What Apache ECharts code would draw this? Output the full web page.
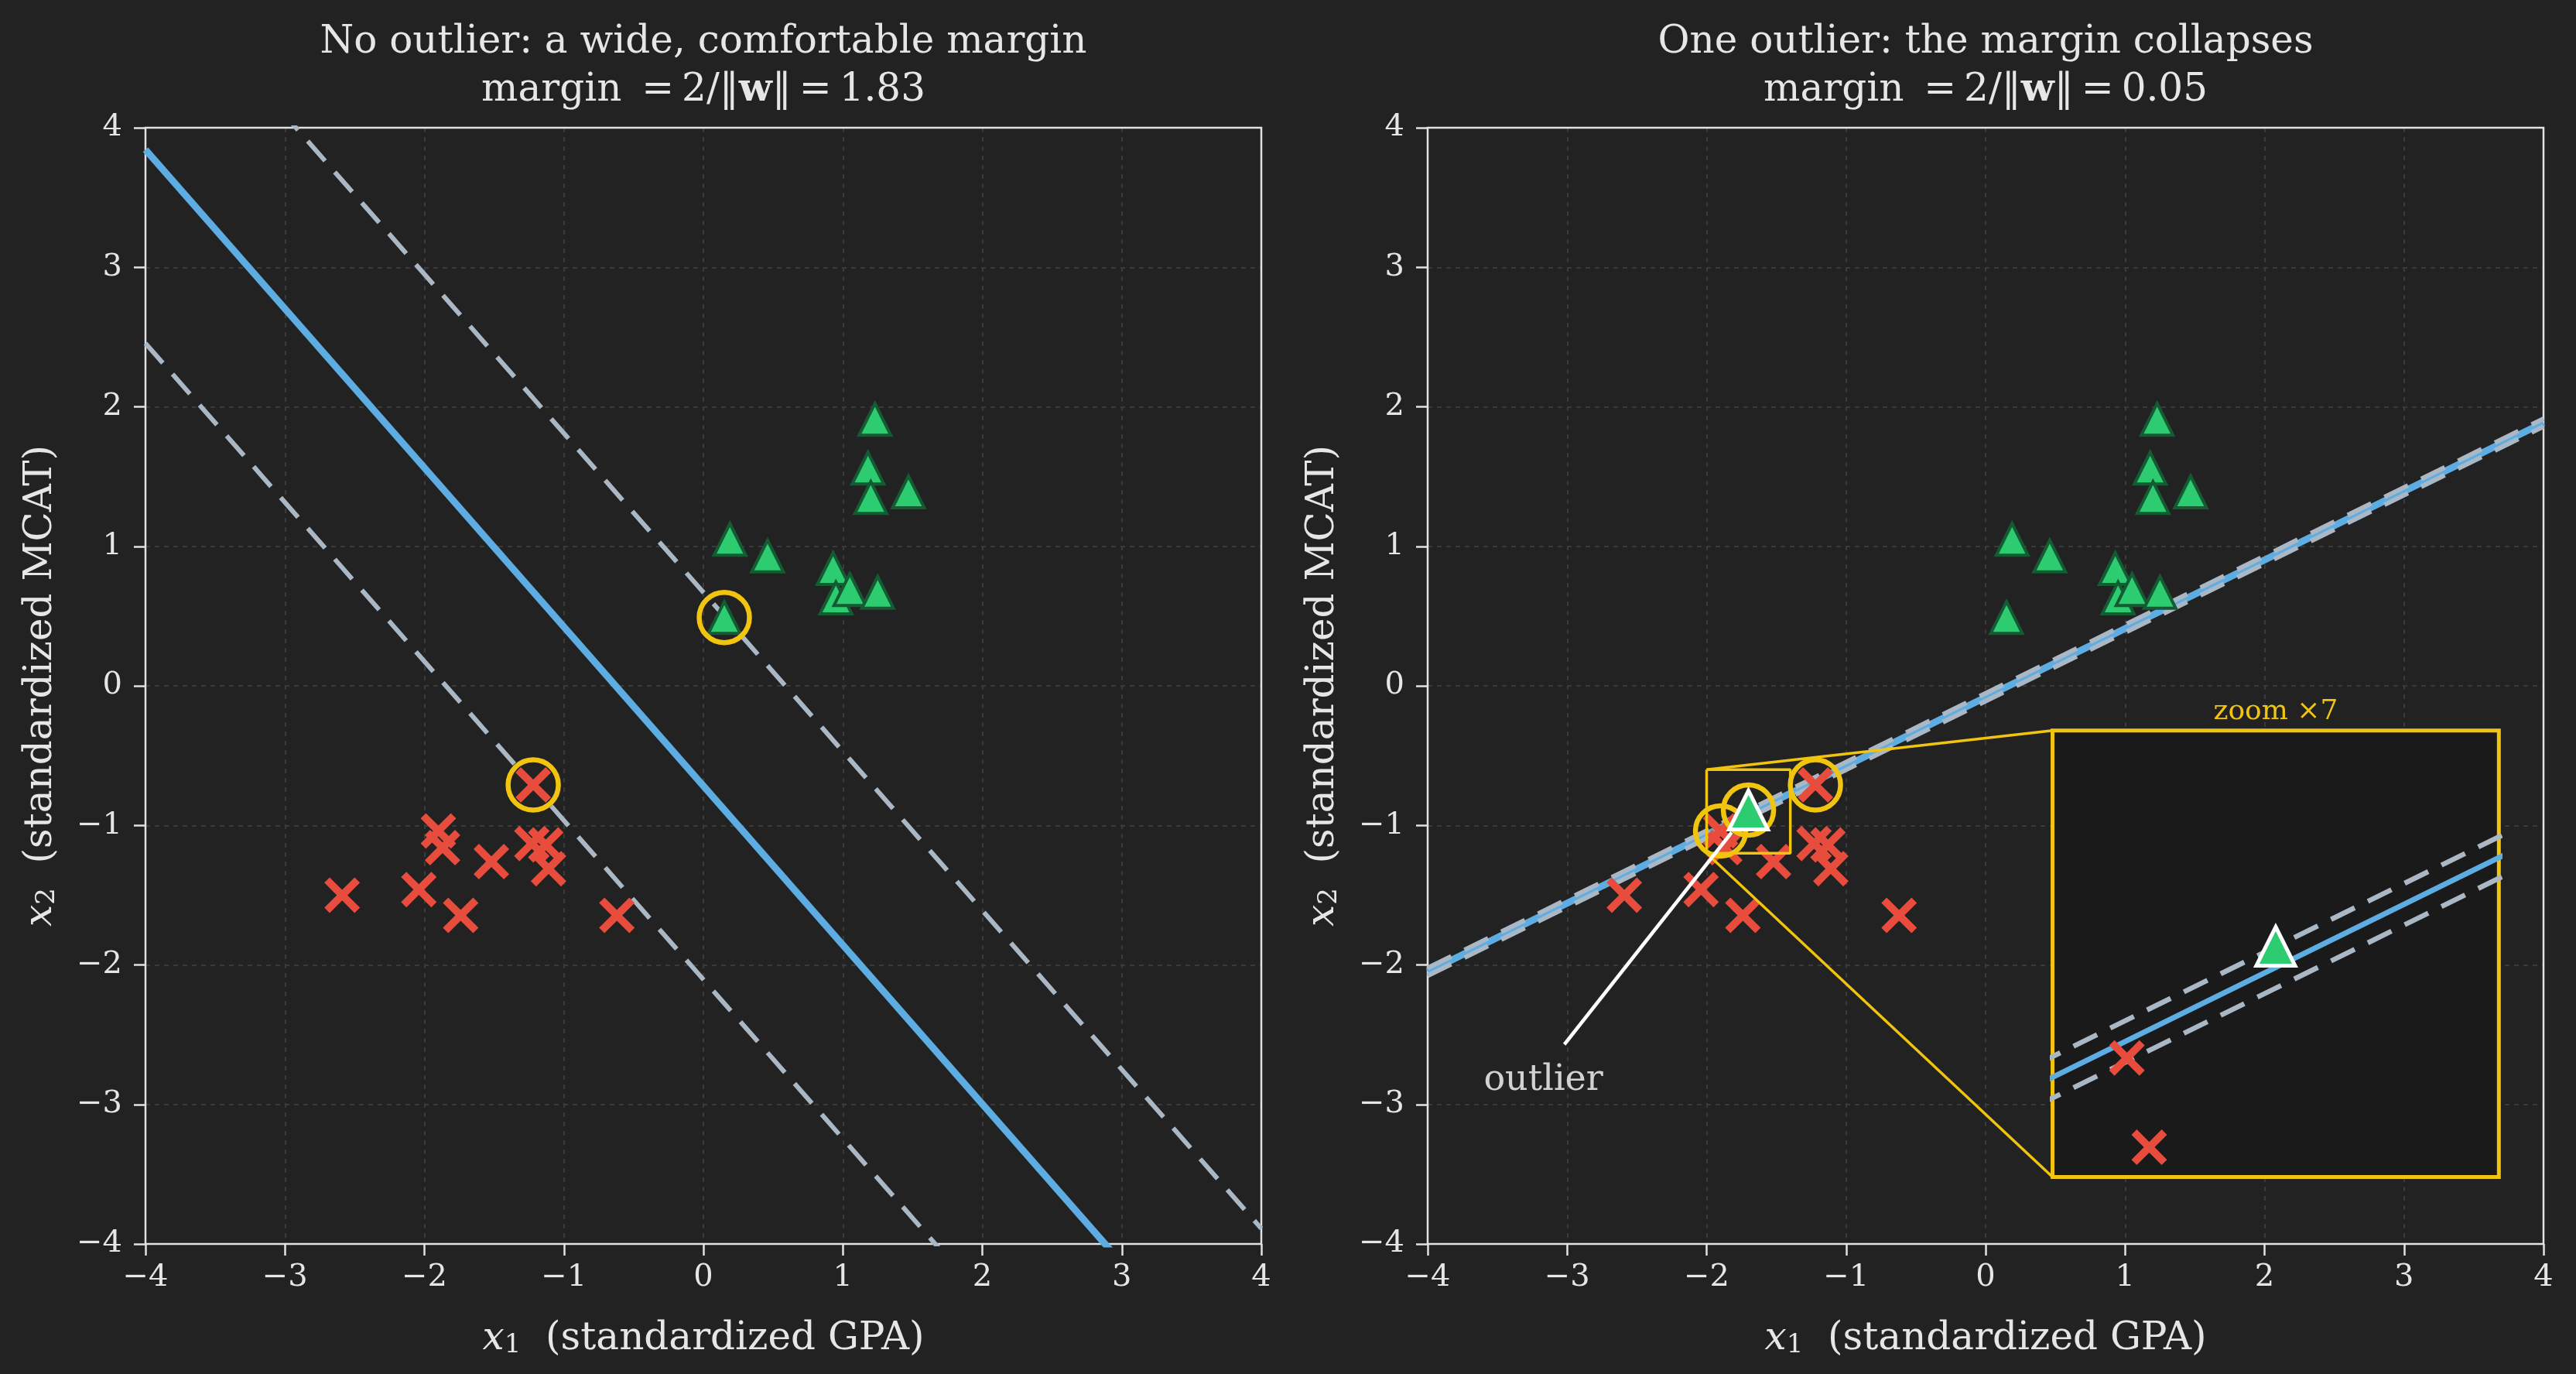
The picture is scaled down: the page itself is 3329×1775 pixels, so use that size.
<!DOCTYPE html>
<html>
<head>
<meta charset="utf-8">
<script src="https://cdn.jsdelivr.net/npm/echarts@6/dist/echarts.min.js"></script>
<style>
  html, body { margin: 0; padding: 0; background: #222222; }
  #chart { width: 3329px; height: 1775px; }
</style>
</head>
<body>
<div id="chart"></div>
<script>
// admitted (triangles) / rejected (crosses), standardized GPA and MCAT
const posX = [0.15, 0.19, 0.46, 0.93, 0.95, 1.05, 1.25, 1.23, 1.18, 1.20, 1.47];
const posY = [0.49, 1.05, 0.93, 0.84, 0.63, 0.69, 0.67, 1.91, 1.56, 1.35, 1.39];
const negX = [-1.22, -1.90, -1.87, -1.52, -2.04, -1.74, -1.23, -1.13, -1.11, -0.62, -2.59];
const negY = [-0.71, -1.04, -1.16, -1.26, -1.46, -1.645, -1.13, -1.14, -1.31, -1.645, -1.50];
const outlier = [-1.70, -0.89];

// fitted hard-margin SVMs: w.x + b = 0
const wLeft = [0.8216, 0.7207], bLeft = 0.517;
const wRight = [-17.66, 35.89], bRight = 2.94;
// support vectors (indices into the arrays above)
const svLeftPos = [0], svLeftNeg = [0];
const svRightNeg = [0, 1];

const axisTicks = [-4, -3, -2, -1, 0, 1, 2, 3, 4];
const zoomX = [-2.0, -1.4], zoomY = [-1.2, -0.6];
const insetBox = [0.56, 0.06, 0.40, 0.40]; // axes fraction: x, y, w, h

// layout
const TOP = 165, SIZE = 1442, LEFT_A = 188, LEFT_B = 1845;
const FONT = 'DejaVu Serif';
const TXT = '#e6e6e6', SPINE = '#e2e2e2';
const BLUE = '#5dade2', GREY = '#aab7c4', YEL = '#f1c40f', RED = '#e74c3c', GREEN = '#2ecc71';
const CROSS = 'path://M0,15L15,0L50,35L85,0L100,15L65,50L100,85L85,100L50,65L15,100L0,85L35,50Z';

const pts = (xs, ys) => xs.map((x, i) => [x, ys[i]]);
const pick = (xs, ys, idx) => idx.map(i => [xs[i], ys[i]]);
// line w.x + b = level, drawn across the axis range
const svmLine = (w, b, level) => [axisTicks[0], axisTicks[axisTicks.length - 1]]
  .map(x => [x, (level - b - w[0] * x) / w[1]]);
const margin = w => (2 / Math.hypot(w[0], w[1])).toFixed(2);
const minus = v => String(v).replace('-', '\u2212');

const insetLeft = LEFT_B + insetBox[0] * SIZE;
const insetTop = TOP + (1 - insetBox[1] - insetBox[3]) * SIZE;
const insetDX = -4 + insetBox[0] * 8;
const insetDTop = -4 + (insetBox[1] + insetBox[3]) * 8;
const insetDBot = -4 + insetBox[1] * 8;

const chart = echarts.init(document.getElementById('chart'));

const nameStyle = {
  color: TXT, fontFamily: FONT, fontSize: 50,
  rich: {
    i: { fontFamily: FONT, fontStyle: 'italic', fontSize: 50, color: TXT },
    s: { fontFamily: FONT, fontSize: 34, color: TXT, verticalAlign: 'bottom', lineHeight: 26 }
  }
};
function mainAxis(i, isX) {
  return {
    type: 'value', gridIndex: i, min: -4, max: 4, interval: 1,
    name: isX ? '{i|x}{s|1}  (standardized GPA)' : '{i|x}{s|2}  (standardized MCAT)',
    nameLocation: 'middle', nameGap: isX ? 98 : 110, nameTextStyle: nameStyle,
    axisLine: { show: false, onZero: false },
    axisTick: { show: true, length: 15, lineStyle: { color: SPINE, width: 2.5 } },
    axisLabel: { color: TXT, fontFamily: FONT, fontSize: 40, margin: isX ? 24 : 30, formatter: minus },
    splitLine: { show: true, lineStyle: { color: '#3a3a3a', width: 2, type: [6, 6] } }
  };
}
const insetAxis = (min, max) => ({
  type: 'value', gridIndex: 2, min: min, max: max,
  axisLine: { show: false, onZero: false }, axisTick: { show: false },
  axisLabel: { show: false }, splitLine: { show: false }
});

function line(ax, data, color, width, type, z) {
  return {
    type: 'line', xAxisIndex: ax, yAxisIndex: ax, data: data, symbol: 'none',
    lineStyle: { color: color, width: width, type: type || 'solid', opacity: 1 }, silent: true, z: z || 2,
    clip: true
  };
}
function svmLines(ax, w, b, wide, dashW, z) {
  return [
    line(ax, svmLine(w, b, 0), BLUE, wide, 'solid', z),
    line(ax, svmLine(w, b, 1), GREY, dashW, [34, 19], z),
    line(ax, svmLine(w, b, -1), GREY, dashW, [34, 19], z)
  ];
}
function points(ax, z) {
  return [
    { type: 'scatter', xAxisIndex: ax, yAxisIndex: ax, data: pts(posX, posY), symbol: 'triangle',
      symbolSize: 41, itemStyle: { color: GREEN, borderColor: '#145a32', borderWidth: 4, opacity: 1 }, silent: true, z: z },
    { type: 'scatter', xAxisIndex: ax, yAxisIndex: ax, data: pts(negX, negY), symbol: CROSS,
      symbolSize: 46, itemStyle: { color: RED, opacity: 1 }, silent: true, z: z }
  ];
}
const outlierSeries = (ax, z) => ({
  type: 'scatter', xAxisIndex: ax, yAxisIndex: ax, data: [outlier], symbol: 'triangle',
  symbolSize: 50, itemStyle: { color: GREEN, borderColor: '#ffffff', borderWidth: 5, opacity: 1 }, silent: true, z: z
});
const rings = (ax, data) => ({
  type: 'scatter', xAxisIndex: ax, yAxisIndex: ax, data: data, symbol: 'circle', symbolSize: 65,
  itemStyle: { color: 'rgba(0,0,0,0)', borderColor: YEL, borderWidth: 6.5, opacity: 1 }, silent: true, z: 4
});

const series = [].concat(
  svmLines(0, wLeft, bLeft, 9, 6, 2),
  points(0, 3),
  [rings(0, pick(posX, posY, svLeftPos).concat(pick(negX, negY, svLeftNeg)))],

  svmLines(1, wRight, bRight, 9, 6, 2),
  points(1, 3),
  [rings(1, pick(negX, negY, svRightNeg).concat([outlier])), outlierSeries(1, 5)],
  [
    line(1, [[zoomX[0], zoomY[1]], [zoomX[1], zoomY[1]], [zoomX[1], zoomY[0]], [zoomX[0], zoomY[0]], [zoomX[0], zoomY[1]]], YEL, 3.5, 'solid', 4),
    line(1, [[zoomX[0], zoomY[1]], [insetDX, insetDTop]], YEL, 3.5, 'solid', 4),
    line(1, [[zoomX[0], zoomY[0]], [insetDX, insetDBot]], YEL, 3.5, 'solid', 4),
    line(1, [[-3.02, -2.57], [-1.82, -1.05]], '#ffffff', 4.5, 'solid', 6),
    { type: 'scatter', xAxisIndex: 1, yAxisIndex: 1, data: [[-3.17, -2.83]], symbolSize: 0, silent: true, z: 6,
      label: { show: true, position: 'inside', formatter: 'outlier', color: '#ffffff', fontFamily: FONT, fontSize: 46 } }
  ],

  svmLines(2, wRight, bRight, 7, 6.5, 6),
  points(2, 7),
  [outlierSeries(2, 8)]
);

const titleMath = w => 'margin \u2009=\u20092/\u2016{b|w}\u2016\u2009=\u2009' + margin(w);
const titleRich = { b: { fontFamily: FONT, fontSize: 50, fontWeight: 'bold', fill: TXT } };
const spine = left => ({
  type: 'rect', z: 2, silent: true,
  shape: { x: left, y: TOP, width: SIZE, height: SIZE },
  style: { fill: 'none', stroke: SPINE, lineWidth: 2.5 }
});

const option = {
  backgroundColor: '#222222',
  animation: false,
  grid: [
    { left: LEFT_A, top: TOP, width: SIZE, height: SIZE, show: true, backgroundColor: '#222222', borderWidth: 0 },
    { left: LEFT_B, top: TOP, width: SIZE, height: SIZE, show: true, backgroundColor: '#222222', borderWidth: 0 },
    { left: insetLeft, top: insetTop, width: insetBox[2] * SIZE, height: insetBox[3] * SIZE, show: true, z: 5,
      backgroundColor: '#1a1a1a', borderColor: YEL, borderWidth: 5 }
  ],
  xAxis: [mainAxis(0, true), mainAxis(1, true), insetAxis(zoomX[0], zoomX[1])],
  yAxis: [mainAxis(0, false), mainAxis(1, false), insetAxis(zoomY[0], zoomY[1])],
  graphic: [
    spine(LEFT_A), spine(LEFT_B),
    { type: 'text', x: LEFT_A + SIZE / 2, y: 55, style: { text: 'No outlier: a wide, comfortable margin', fill: TXT, font: '50px "DejaVu Serif"', align: 'center', verticalAlign: 'middle' } },
    { type: 'text', x: LEFT_A + SIZE / 2, y: 117, style: { text: titleMath(wLeft), fill: TXT, fontFamily: FONT, fontSize: 50, align: 'center', verticalAlign: 'middle', rich: titleRich } },
    { type: 'text', x: LEFT_B + SIZE / 2, y: 55, style: { text: 'One outlier: the margin collapses', fill: TXT, font: '50px "DejaVu Serif"', align: 'center', verticalAlign: 'middle' } },
    { type: 'text', x: LEFT_B + SIZE / 2, y: 117, style: { text: titleMath(wRight), fill: TXT, fontFamily: FONT, fontSize: 50, align: 'center', verticalAlign: 'middle', rich: titleRich } },
    { type: 'text', x: insetLeft + insetBox[2] * SIZE / 2, y: insetTop - 24, z: 10,
      style: { text: 'zoom \u00d77', fill: YEL, font: '36px "DejaVu Serif"', align: 'center', verticalAlign: 'middle' } }
  ],
  series: series
};
chart.setOption(option);
</script>
</body>
</html>
